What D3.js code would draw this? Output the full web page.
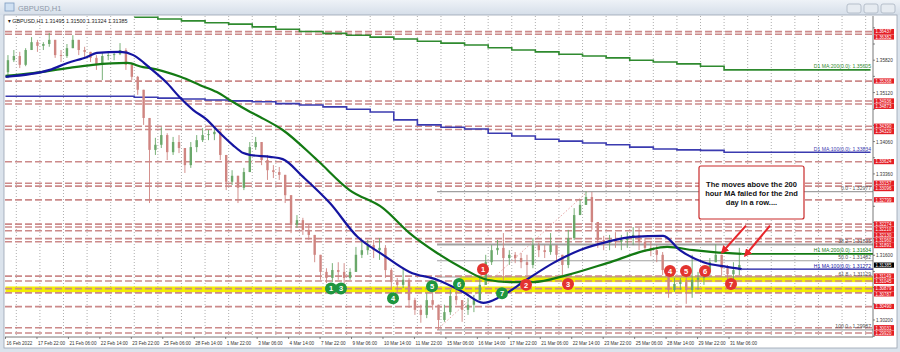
<!DOCTYPE html>
<html><head><meta charset="utf-8">
<script src="https://cdn.jsdelivr.net/npm/d3@7"></script>
<style>body{margin:0;background:#dbe3ec;}svg{display:block;font-family:"Liberation Sans",Arial,sans-serif}</style>
</head><body><svg id="c" width="900" height="352"></svg>
<script>
// ---- data (hourly bars grouped 6 per candle) ----
const BUCKET = 6;
const firstOpen = 1.3556;
const highs = [1.3593,1.3604,1.3600,1.3608,1.3632,1.3626,1.3621,1.3641,1.3621,1.3604,
1.3617,1.3636,1.3626,1.3611,1.3600,1.3593,1.3598,1.3600,1.3600,1.3619,
1.3608,1.3576,1.3548,1.3518,1.3457,1.3414,1.3437,1.3424,1.3416,1.3420,
1.3392,1.3405,1.3420,1.3435,1.3431,1.3435,1.3431,1.3377,1.3344,1.3327,
1.3349,1.3405,1.3416,1.3405,1.3377,1.3355,1.3351,1.3334,1.3290,1.3247,
1.3241,1.3226,1.3200,1.3150,1.3132,1.3143,1.3145,1.3143,1.3132,1.3178,
1.3189,1.3193,1.3193,1.3197,1.3182,1.3132,1.3111,1.3132,1.3111,1.3068,
1.3053,1.3078,1.3091,1.3053,1.3053,1.3085,1.3085,1.3063,1.3068,1.3074,
1.3111,1.3161,1.3182,1.3193,1.3208,1.3171,1.3167,1.3165,1.3161,1.3197,
1.3187,1.3182,1.3208,1.3182,1.3161,1.3215,1.3262,1.3280,1.3298,1.3297,
1.3226,1.3202,1.3204,1.3210,1.3204,1.3210,1.3221,1.3219,1.3197,1.3189,
1.3182,1.3167,1.3128,1.3111,1.3111,1.3139,1.3161,1.3124,1.3132,1.3154,
1.3184,1.3161,1.3139,1.3145,1.3176];
const lows = [1.3543,1.3578,1.3565,1.3569,1.3604,1.3600,1.3604,1.3611,1.3587,1.3578,
1.3587,1.3608,1.3593,1.3587,1.3578,1.3561,1.3539,1.3582,1.3582,1.3593,
1.3561,1.3539,1.3507,1.3442,1.3273,1.3377,1.3392,1.3366,1.3377,1.3381,
1.3338,1.3349,1.3383,1.3405,1.3409,1.3409,1.3366,1.3301,1.3312,1.3273,
1.3301,1.3340,1.3388,1.3355,1.3323,1.3327,1.3323,1.3273,1.3208,1.3219,
1.3204,1.3193,1.3145,1.3107,1.3100,1.3102,1.3107,1.3096,1.3107,1.3124,
1.3154,1.3161,1.3154,1.3150,1.3111,1.3085,1.3081,1.3089,1.3046,1.3031,
1.3014,1.3024,1.3042,1.2999,1.3016,1.3031,1.3053,1.3016,1.3031,1.3037,
1.3063,1.3096,1.3139,1.3161,1.3100,1.3139,1.3143,1.3132,1.3117,1.3132,
1.3156,1.3154,1.3161,1.3145,1.3117,1.3132,1.3193,1.3247,1.3269,1.3215,
1.3176,1.3171,1.3171,1.3176,1.3171,1.3176,1.3182,1.3171,1.3167,1.3158,
1.3145,1.3117,1.3068,1.3081,1.3085,1.3055,1.3068,1.3085,1.3096,1.3117,
1.3145,1.3117,1.3102,1.3107,1.3117];
const closes = [1.3582,1.3591,1.3572,1.3604,1.3621,1.3613,1.3617,1.3626,1.3593,1.3591,
1.3608,1.3626,1.3604,1.3600,1.3587,1.3572,1.3591,1.3593,1.3595,1.3604,
1.3572,1.3546,1.3518,1.3457,1.3388,1.3399,1.3420,1.3383,1.3405,1.3392,
1.3355,1.3394,1.3409,1.3420,1.3422,1.3427,1.3377,1.3319,1.3332,1.3306,
1.3340,1.3394,1.3405,1.3366,1.3344,1.3340,1.3334,1.3290,1.3226,1.3236,
1.3215,1.3204,1.3161,1.3124,1.3111,1.3128,1.3124,1.3111,1.3124,1.3161,
1.3171,1.3182,1.3171,1.3176,1.3128,1.3102,1.3096,1.3107,1.3063,1.3042,
1.3031,1.3063,1.3053,1.3020,1.3037,1.3072,1.3063,1.3042,1.3053,1.3063,
1.3096,1.3145,1.3171,1.3176,1.3154,1.3161,1.3154,1.3145,1.3139,1.3182,
1.3171,1.3167,1.3182,1.3161,1.3139,1.3197,1.3247,1.3269,1.3286,1.3232,
1.3193,1.3187,1.3193,1.3189,1.3193,1.3197,1.3204,1.3189,1.3176,1.3171,
1.3161,1.3128,1.3085,1.3098,1.3102,1.3085,1.3107,1.3111,1.3124,1.3145,
1.3161,1.3132,1.3119,1.3128,1.3139];

// H1 moving averages (bar index, value)
const ma100Bars = [0,45,63,83,93,117,130,140,147,164,178,191,205,215,231,242,249,269,282,303,330,358,384,411,439,465,486,503,530,557,584,612,638,669,686,710,734,749];
const ma100Vals = [1.3546,1.3561,1.3576,1.3589,1.3598,1.3600,1.3593,1.3578,1.3565,1.3533,1.3500,1.3474,1.3453,1.3431,1.3399,1.3381,1.3377,1.3373,1.3368,1.3329,1.3273,1.3200,1.3161,1.3124,1.3107,1.3081,1.3057,1.3070,1.3107,1.3143,1.3171,1.3189,1.3200,1.3202,1.3171,1.3145,1.3135,1.3130];
const ma200Bars = [0,28,63,89,124,140,147,178,198,215,231,249,259,282,317,350,384,411,439,465,490,513,537,571,612,653,673,700,720,749];
const ma200Vals = [1.3548,1.3554,1.3565,1.3572,1.3576,1.3567,1.3565,1.3546,1.3528,1.3513,1.3492,1.3470,1.3459,1.3431,1.3366,1.3301,1.3262,1.3208,1.3165,1.3132,1.3107,1.3102,1.3102,1.3117,1.3143,1.3171,1.3178,1.3171,1.3167,1.3163];
// D1 moving averages (step per day)
const d1Bars = [131,155,179,203,227,251,275,299,323,347,371,395,419,443,467,491,515,539,563,587,611,635,659,683,707,731];
const d1ma200 = [1.3675,1.3671,1.3667,1.3663,1.3660,1.3654,1.3649,1.3644,1.3640,1.3636,1.3632,1.3628,1.3623,1.3619,1.3615,1.3609,1.3604,1.3600,1.3595,1.3591,1.3587,1.3582,1.3578,1.3574,1.3569,1.3561];
const d1ma100Start = 1.3504;
const d1ma100 = [1.3502,1.3500,1.3498,1.3496,1.3494,1.3492,1.3488,1.3485,1.3481,1.3476,1.3470,1.3453,1.3442,1.3437,1.3433,1.3424,1.3418,1.3411,1.3407,1.3403,1.3399,1.3394,1.3390,1.3388,1.3387,1.3383];

// levels
const redLevels = [1.36437,1.36382,1.35368,1.34936,1.34873,1.34390,1.34320,1.33624,1.33157,1.33096,1.32799,1.32274,1.32210,1.32130,1.31960,1.31891,1.31149,1.31045,1.30879,1.30787,1.30490,1.30031,1.29920];
const yellowBands = [[1.31020,1.31150,462],[1.30800,1.30925,0]];
const fibLevels = [0.0,38.2,50.0,61.8,100.0];
const fibPrices = [1.32977,1.31835,1.31482,1.31129,1.29987];
const fibStartBar = 439, fibEndBar = 592;
const priceTicks = ["1.36520","1.36170","1.35820","1.35470","1.35120","1.34760","1.34410","1.34060","1.33710","1.33360","1.33010","1.32660","1.32310","1.31960","1.31600","1.31250","1.30900","1.30550","1.30200","1.29850"];
const timeLabels = ["16 Feb 2022","17 Feb 22:00","21 Feb 06:00","22 Feb 14:00","23 Feb 22:00","25 Feb 06:00","28 Feb 14:00","1 Mar 22:00","3 Mar 06:00","4 Mar 14:00","7 Mar 22:00","9 Mar 06:00","10 Mar 14:00","11 Mar 22:00","15 Mar 06:00","16 Mar 14:00","17 Mar 22:00","21 Mar 06:00","22 Mar 14:00","23 Mar 22:00","25 Mar 06:00","28 Mar 14:00","29 Mar 22:00","31 Mar 06:00"];
const LABEL_STEP = 32, DAY = 24, DAY0 = 11;
const lastPrice = 1.31385;
const redMarks = [["1",483,1.3130],["2",526,1.3096],["3",568,1.3098],["4",670,1.3126],["5",686,1.3126],["6",705,1.3126],["7",731,1.3098]];
const greenMarks = [["1",331,1.3088],["3",341,1.3088],["4",393,1.3067],["5",432,1.3093],["6",459,1.3098],["7",502,1.3078]];
const noteLines = ["The moves above the 200","hour MA failed for the 2nd","day in a row...."];
const arrows = [[746,1.3224,722,1.3166],[770,1.3224,745,1.3159]];

// ---- drawing ----
const svg = d3.select("#c");
const P = {l:5, r:873, t:16, b:337};
const x = d3.scaleLinear().domain([0,878]).range([5.5,868.6]);
const y = d3.scaleLinear().domain([1.29832,1.36776]).range([337,16]);
function condense(sel, f){ sel.each(function(){ const w=this.getComputedTextLength(); this.setAttribute("textLength", w*f); this.setAttribute("lengthAdjust","spacingAndGlyphs"); }); return sel; }

// window chrome
const defs = svg.append("defs");
const g1 = defs.append("linearGradient").attr("id","tb").attr("x1",0).attr("y1",0).attr("x2",0).attr("y2",1);
g1.append("stop").attr("offset",0).attr("stop-color","#eef2f7");
g1.append("stop").attr("offset",1).attr("stop-color","#d5dee9");
svg.append("rect").attr("width",900).attr("height",352).attr("fill","#dbe3ec");
svg.append("rect").attr("width",900).attr("height",15).attr("fill","url(#tb)");
svg.append("rect").attr("x",5).attr("y",3).attr("width",9).attr("height",8).attr("fill","#cfe0f2").attr("stroke","#7d9cc0").attr("stroke-width",0.8);
svg.append("text").attr("x",18).attr("y",10.5).attr("font-size",7.5).attr("fill","#8d98a8").text("GBPUSD,H1");
[[847,861],[864,878],[881,895]].forEach(b=>{
  svg.append("rect").attr("x",b[0]).attr("y",4).attr("width",b[1]-b[0]).attr("height",9).attr("rx",2)
   .attr("fill","#e6ebf1").attr("stroke","#aab4c2").attr("stroke-width",0.8);
});
svg.append("rect").attr("x",4).attr("y",15).attr("width",893).attr("height",333).attr("fill","#fff").attr("stroke","#9aa4b2").attr("stroke-width",0.8);

defs.append("clipPath").attr("id","clip").append("rect").attr("x",P.l).attr("y",P.t).attr("width",P.r-P.l).attr("height",P.b-P.t);
const plot = svg.append("g").attr("clip-path","url(#clip)");

// daily grid
for(let b=DAY0; x(b)<P.r; b+=DAY){
  plot.append("line").attr("x1",x(b)).attr("x2",x(b)).attr("y1",P.t).attr("y2",P.b)
    .attr("stroke","#9a9a9a").attr("stroke-width",0.8).attr("stroke-dasharray","1,2");
}
// yellow bands
yellowBands.forEach(b=>{
  plot.append("rect").attr("x",x(b[2])).attr("width",P.r-x(b[2])).attr("y",y(b[1])).attr("height",y(b[0])-y(b[1])).attr("fill","#f4ef00");
});
// fib lines
fibPrices.forEach((p,i)=>{
  plot.append("line").attr("x1",x(fibStartBar)).attr("x2",P.r).attr("y1",y(p)).attr("y2",y(p))
    .attr("stroke","#a0a0a0").attr("stroke-width",fibLevels[i]===38.2?2:1.1);
});
plot.append("line").attr("x1",x(fibStartBar)).attr("y1",y(fibPrices[4])).attr("x2",x(fibEndBar)).attr("y2",y(fibPrices[0]))
  .attr("stroke","#e39a9a").attr("stroke-width",0.9).attr("stroke-dasharray","1.5,2");
// red dashed levels
redLevels.forEach(p=>{
  plot.append("line").attr("x1",P.l).attr("x2",P.r).attr("y1",y(p)).attr("y2",y(p))
    .attr("stroke","#cc8a8a").attr("stroke-width",1.6).attr("stroke-dasharray","7,3");
});
// D1 MAs
const step = d3.line().x(d=>x(d[0])).y(d=>y(d[1])).curve(d3.curveStepAfter);
const d1a = d1Bars.map((b,i)=>[b,d1ma200[i]]); d1a.push([880,d1ma200[d1ma200.length-1]]);
const d1b = [[0,d1ma100Start]].concat(d1Bars.map((b,i)=>[b,d1ma100[i]])); d1b.push([880,d1ma100[d1ma100.length-1]]);
plot.append("path").attr("d",step(d1a)).attr("fill","none").attr("stroke","#2f8a2f").attr("stroke-width",1.6);
plot.append("path").attr("d",step(d1b)).attr("fill","none").attr("stroke","#3b3bb0").attr("stroke-width",1.6);

// candles
const candles = closes.map((c,k)=>{
  const o = k===0?firstOpen:closes[k-1];
  return {k, o, c, h:Math.max(highs[k],o,c), l:Math.min(lows[k],o,c)};
});
const cg = plot.append("g");
candles.forEach(d=>{
  const cx = x(d.k*BUCKET + (BUCKET-1)/2);
  const col = d.c>=d.o ? "#6aa86a" : "#cf8581";
  cg.append("line").attr("x1",cx).attr("x2",cx).attr("y1",y(d.h)).attr("y2",y(d.l)).attr("stroke",col).attr("stroke-width",0.9);
  const top = y(Math.max(d.o,d.c)), bot = y(Math.min(d.o,d.c));
  cg.append("rect").attr("x",cx-1.2).attr("width",2.4).attr("y",top).attr("height",Math.max(0.8,bot-top)).attr("fill",col);
});

// H1 MAs
const smooth = d3.line().x(d=>x(d[0])).y(d=>y(d[1])).curve(d3.curveMonotoneX);
const m200 = ma200Bars.map((b,i)=>[b,ma200Vals[i]]);
const m100 = ma100Bars.map((b,i)=>[b,ma100Vals[i]]);
plot.append("path").attr("d",smooth(m200)).attr("fill","none").attr("stroke","#137a13").attr("stroke-width",2.2);
plot.append("path").attr("d",smooth(m100)).attr("fill","none").attr("stroke","#1515a0").attr("stroke-width",2.2);
const l200 = ma200Vals[ma200Vals.length-1], l100 = ma100Vals[ma100Vals.length-1];
plot.append("line").attr("x1",x(749)).attr("x2",P.r).attr("y1",y(l200)).attr("y2",y(l200)).attr("stroke","#137a13").attr("stroke-width",1.6);
plot.append("line").attr("x1",x(749)).attr("x2",P.r).attr("y1",y(l100)).attr("y2",y(l100)).attr("stroke","#1515a0").attr("stroke-width",1.2);

// in-chart labels (right aligned)
const rl = (txt, p, col) => svg.append("text").attr("x",P.r-2).attr("y",y(p)-1.5).attr("text-anchor","end")
  .attr("font-size",5.1).attr("fill",col).text(txt);
rl("D1 MA:200(0.0): 1.35605", d1ma200[d1ma200.length-1], "#2f8a2f");
rl("D1 MA:100(0.0): 1.33834", d1ma100[d1ma100.length-1], "#3b3bb0");
rl("H1 MA:200(0.0): 1.31634", l200, "#137a13");
rl("H1 MA:100(0.0): 1.31272", l100, "#1515a0");
fibPrices.forEach((p,i)=> rl(fibLevels[i].toFixed(1)+" - "+p.toFixed(5), p, "#555"));

// numbered circles
function mark(list, col){
  list.forEach(m=>{
    const g = svg.append("g").attr("transform",`translate(${m[1]},${y(m[2])})`);
    g.append("circle").attr("r",6).attr("fill",col);
    g.append("text").attr("y",2.7).attr("text-anchor","middle").attr("font-size",7.5).attr("font-weight","bold").attr("fill","#fff").text(m[0]);
  });
}
mark(redMarks,"#e3342f");
mark(greenMarks,"#1f9640");

// annotation box + arrows
svg.append("rect").attr("x",699).attr("y",166).attr("width",105).attr("height",53).attr("rx",2)
  .attr("fill","#fff").attr("stroke","#c92a2a").attr("stroke-width",1.2);
noteLines.forEach((t,i)=> svg.append("text").attr("x",751.5).attr("y",187+i*8.8).attr("text-anchor","middle")
  .attr("font-size",7.5).attr("font-weight","bold").attr("fill","#111").text(t));
defs.append("marker").attr("id","ah").attr("viewBox","0 0 10 10").attr("refX",8).attr("refY",5)
  .attr("markerWidth",4).attr("markerHeight",4).attr("orient","auto")
  .append("path").attr("d","M0,0L10,5L0,10z").attr("fill","#e8262b");
arrows.forEach(a=> svg.append("line").attr("x1",a[0]).attr("y1",y(a[1])).attr("x2",a[2]).attr("y2",y(a[3]))
  .attr("stroke","#e8262b").attr("stroke-width",2).attr("marker-end","url(#ah)"));

// plot frame
svg.append("line").attr("x1",P.r).attr("x2",P.r).attr("y1",P.t).attr("y2",P.b).attr("stroke","#555").attr("stroke-width",0.8);
svg.append("line").attr("x1",P.l).attr("x2",P.r).attr("y1",P.b).attr("y2",P.b).attr("stroke","#555").attr("stroke-width",0.8);

// header text
condense(svg.append("text").attr("x",8).attr("y",23).attr("font-size",6).attr("fill","#222")
  .text("\u25BE GBPUSD,H1  1.31495 1.31500 1.31324 1.31385"), 0.9);

// axis labels: red level boxes + last price, spread to avoid overlap
const boxes = redLevels.map(p=>({p, fill:"#e41e25"})).concat([{p:lastPrice, fill:"#000"}])
  .map(d=>({...d, yy:y(d.p)})).sort((a,b)=>a.yy-b.yy);
const BH = 5.4;
for(let i=1;i<boxes.length;i++){ if(boxes[i].yy < boxes[i-1].yy+BH) boxes[i].yy = boxes[i-1].yy+BH; }
// price ticks, hidden where a box sits
priceTicks.forEach(t=>{
  const yy = y(+t);
  svg.append("line").attr("x1",P.r).attr("x2",P.r+2).attr("y1",yy).attr("y2",yy).attr("stroke","#555").attr("stroke-width",0.7);
  if(boxes.some(b=>Math.abs(b.yy-yy)<7.5)) return;
  condense(svg.append("text").attr("x",P.r+3).attr("y",yy+2).attr("font-size",5.8).attr("fill","#333").text(t),0.8);
});
boxes.forEach(b=>{
  svg.append("rect").attr("x",P.r+1).attr("y",b.yy-BH/2).attr("width",20).attr("height",BH-0.2).attr("fill",b.fill);
  condense(svg.append("text").attr("x",P.r+2.5).attr("y",b.yy+1.7).attr("font-size",4.9).attr("fill","#fff").text(b.p.toFixed(5)),0.9);
});
// time axis
timeLabels.forEach((t,j)=>{
  const xx = x(j*LABEL_STEP);
  svg.append("line").attr("x1",xx).attr("x2",xx).attr("y1",P.b).attr("y2",P.b+2).attr("stroke","#555").attr("stroke-width",0.7);
  condense(svg.append("text").attr("x",xx+1).attr("y",P.b+7.5).attr("font-size",5.6).attr("fill","#333").text(t),0.82);
});
</script></body></html>
